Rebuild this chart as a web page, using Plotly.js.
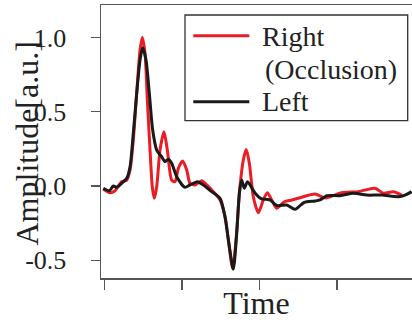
<!DOCTYPE html>
<html>
<head>
<meta charset="utf-8">
<script src="https://cdn.plot.ly/plotly-3.0.1.min.js"></script>
<style>html,body{margin:0;padding:0;background:#fff;overflow:hidden;}#chart{width:412px;height:322px;}</style>
</head>
<body>
<div id="chart"></div>
<script>
// Right (Occlusion) — red trace
const timeRight = [-1.3, 7.4, 13.8, 22.4, 28.9, 33.2, 37.4, 41.8, 46.1, 49.0, 52.5, 55.5, 59.0, 61.9, 64.5, 67.6, 71.9, 77.0, 81.3, 86.9, 91.2, 95.5, 101.1, 106.3, 110.6, 117.0, 125.6, 132.1, 140.6, 149.3, 155.7, 160.0, 165.6, 169.9, 175.0, 179.3, 183.1, 187.1, 192.2, 198.7, 205.1, 210.3, 215.9, 222.4, 232.3, 242.0, 256.7, 271.8, 285.0, 306.2, 327.7, 349.2, 359.9, 372.8, 383.6];
const ampRight = [-0.022, -0.045, -0.032, 0.029, 0.040, 0.108, 0.310, 0.626, 0.915, 1.0, 0.895, 0.579, 0.242, -0.005, -0.083, -0.005, 0.242, 0.365, 0.242, 0.040, 0.029, 0.119, 0.168, 0.108, 0.018, 0.007, 0.036, 0.007, -0.038, -0.094, -0.207, -0.363, -0.555, -0.363, -0.005, 0.175, 0.245, 0.153, -0.072, -0.180, -0.094, -0.045, -0.094, -0.150, -0.106, -0.094, -0.072, -0.054, -0.080, -0.045, -0.038, -0.015, -0.049, -0.038, -0.061];

// Left — black trace
const timeLeft = [-1.3, 6.5, 11.6, 16.0, 22.4, 28.9, 33.2, 37.4, 41.8, 46.1, 49.5, 53.8, 58.1, 62.4, 67.6, 74.0, 78.3, 82.6, 86.9, 93.4, 104.1, 110.6, 120.0, 127.7, 138.5, 149.3, 155.7, 161.3, 166.4, 170.8, 174.2, 177.2, 180.5, 184.7, 188.0, 194.4, 203.0, 209.5, 213.8, 222.4, 235.3, 246.0, 257.6, 271.8, 278.3, 286.9, 304.1, 321.2, 338.5, 357.8, 379.3, 388.0, 396.5];
const ampLeft = [-0.015, -0.032, 0.0, -0.009, 0.018, 0.052, 0.130, 0.355, 0.624, 0.848, 0.931, 0.848, 0.624, 0.377, 0.242, 0.197, 0.164, 0.180, 0.153, 0.063, -0.009, 0.007, 0.029, 0.007, -0.038, -0.083, -0.207, -0.408, -0.560, -0.318, -0.049, 0.040, -0.015, 0.029, 0.007, -0.047, -0.087, -0.090, -0.094, -0.131, -0.128, -0.157, -0.111, -0.101, -0.094, -0.065, -0.065, -0.049, -0.061, -0.061, -0.072, -0.061, -0.038];

const seriesNames = ["Right", "(Occlusion)", "Left"];
const yTitle = "Amplitude[a.u.]";
const xTitle = "Time";
const yTickVals = [-0.5, 0, 0.5, 1.0];
const yTickText = ["-0.5", "0.0", "0.5", "1.0"];
const xTickVals = [0, 100, 200, 300];

const redColor = "#ec1c24";
const blackColor = "#1a1a1a";
const axisColor = "#555555";
const textColor = "#222222";
const serif = "'Liberation Serif', 'Times New Roman', Times, serif";

const traces = [
  {x: timeRight, y: ampRight, type: "scatter", mode: "lines", name: "Right (Occlusion)",
   line: {color: redColor, width: 3, shape: "spline", smoothing: 0.7}},
  {x: timeLeft, y: ampLeft, type: "scatter", mode: "lines", name: "Left",
   line: {color: blackColor, width: 3, shape: "spline", smoothing: 0.7}}
];

function px2x(px){ return (px - 101) / 311; }
function px2y(py){ return (278 - py) / 273; }

const layout = {
  width: 412, height: 322,
  margin: {l: 101, r: 0, t: 5, b: 44},
  paper_bgcolor: "#ffffff", plot_bgcolor: "#ffffff",
  showlegend: false,
  font: {family: serif, color: textColor},
  xaxis: {
    range: [-4.26, 396.9],
    showgrid: false, zeroline: false,
    showline: true, linecolor: axisColor, linewidth: 1.5, mirror: true,
    ticks: "outside", ticklen: 10, tickwidth: 1.5, tickcolor: axisColor,
    tickvals: xTickVals, showticklabels: false,
    title: {text: xTitle, font: {size: 32, family: serif, color: textColor}, standoff: 3}
  },
  yaxis: {
    range: [-0.619, 1.218],
    showgrid: false, zeroline: false,
    showline: true, linecolor: axisColor, linewidth: 1.5, mirror: false,
    ticks: "outside", ticklen: 9, tickwidth: 1.5, tickcolor: axisColor,
    tickvals: yTickVals, ticktext: yTickText,
    tickfont: {size: 26, family: serif, color: textColor},
    ticklabelstandoff: 19
  },
  shapes: [
    {type: "rect", xref: "paper", yref: "paper",
     x0: px2x(185), x1: px2x(407.7), y0: px2y(120.7), y1: px2y(15),
     line: {color: "#333333", width: 1.3}, fillcolor: "#ffffff", layer: "above"},
    {type: "line", xref: "paper", yref: "paper",
     x0: px2x(193.3), x1: px2x(249.3), y0: px2y(35.7), y1: px2y(35.7),
     line: {color: redColor, width: 3}, layer: "above"},
    {type: "line", xref: "paper", yref: "paper",
     x0: px2x(193.3), x1: px2x(249.3), y0: px2y(101.7), y1: px2y(101.7),
     line: {color: blackColor, width: 3}, layer: "above"}
  ],
  annotations: [
    {text: yTitle, xref: "paper", yref: "paper", x: px2x(26), y: px2y(143.5),
     xanchor: "center", yanchor: "middle", textangle: -90, showarrow: false,
     font: {size: 32, family: serif, color: textColor}},
    {text: seriesNames[0], xref: "paper", yref: "paper", x: px2x(259.5), y: px2y(36.6),
     xanchor: "left", yanchor: "middle", showarrow: false, font: {size: 28, family: serif, color: textColor}},
    {text: seriesNames[1], xref: "paper", yref: "paper", x: px2x(262.5), y: px2y(69.9),
     xanchor: "left", yanchor: "middle", showarrow: false, font: {size: 28, family: serif, color: textColor}},
    {text: seriesNames[2], xref: "paper", yref: "paper", x: px2x(259.5), y: px2y(101.6),
     xanchor: "left", yanchor: "middle", showarrow: false, font: {size: 28, family: serif, color: textColor}}
  ]
};

Plotly.newPlot("chart", traces, layout, {displayModeBar: false, staticPlot: true});
</script>
</body>
</html>
